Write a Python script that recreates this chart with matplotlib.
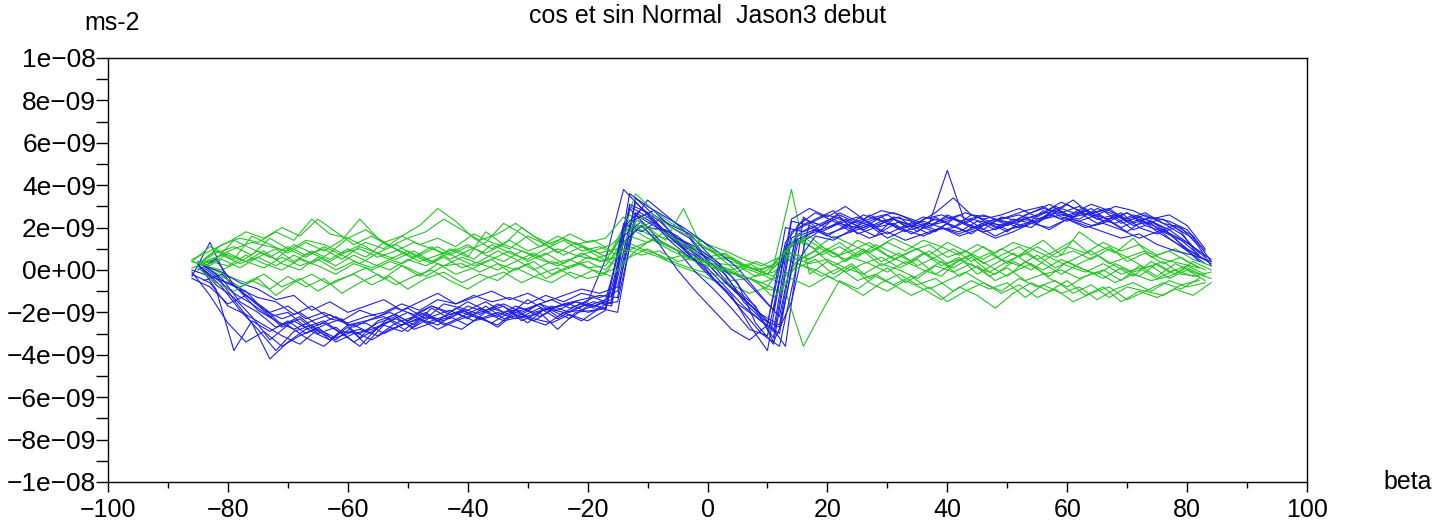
import numpy as np
import matplotlib
matplotlib.use("Agg")
import matplotlib.pyplot as plt
from matplotlib.ticker import FuncFormatter, MultipleLocator

plt.rcParams['font.family'] = ['Liberation Sans', 'DejaVu Sans']

# each curve is sampled every 3 degrees of beta, 57 points, starting at one of these
starts = [-85, -84, -86, -85, -84, -86, -85, -84, -86, -85,
          -84, -86, -85, -84, -86]
n_pts = 57
step = 3

# acceleration in units of 1e-9 m/s2
blue = [
    [0.2, -0.4, -1.1, -1.6, -2.2, -2.0, -2.7, -2.4, -3.0, -2.8,
     -3.1, -2.5, -2.2, -1.7, -2.1, -1.9, -1.5, -2.0, -1.8, -2.2,
     -1.7, -1.5, -1.8, -1.2, 3.0, 2.5, 1.8, 1.2, 0.6, -0.3,
     -1.1, -1.9, -3.2, 1.8, 2.3, 2.0, 2.4, 1.9, 2.3, 2.0,
     2.1, 1.8, 2.4, 2.0, 2.2, 2.1, 2.6, 2.9, 2.7, 3.0,
     2.4, 2.6, 2.1, 2.3, 1.9, 1.3, 0.6],
    [0.0, -0.8, -1.9, -2.8, -3.8, -2.9, -2.6, -3.3, -2.7, -3.5,
     -2.6, -2.9, -2.3, -2.6, -2.0, -2.4, -2.2, -1.9, -2.5, -1.8,
     -2.0, -1.9, -1.6, -1.5, 2.4, 2.8, 2.0, 1.5, 0.4, -0.2,
     -1.5, -2.3, -2.7, 1.2, 1.7, 2.4, 1.9, 2.2, 1.7, 2.1,
     2.3, 2.0, 1.8, 2.3, 1.9, 2.4, 2.2, 2.5, 3.1, 2.6,
     2.8, 2.2, 2.5, 1.8, 2.1, 1.6, 0.4],
    [-0.3, 1.3, -0.5, -1.2, -1.8, -2.6, -2.2, -2.9, -3.3, -2.6,
     -3.0, -2.2, -1.8, -2.3, -1.6, -1.8, -2.1, -1.6, -2.0, -1.7,
     -1.4, -1.8, -1.5, 0.5, 3.8, 2.9, 2.3, 1.5, 1.1, 0.2,
     -0.8, -1.6, -2.4, -3.6, 2.5, 1.8, 2.2, 2.5, 2.1, 2.4,
     1.9, 2.2, 4.7, 2.2, 1.8, 2.0, 2.4, 2.3, 2.9, 2.5,
     2.7, 2.9, 2.3, 2.6, 2.2, 1.7, 0.8],
    [0.4, -0.2, -1.4, -2.5, -4.2, -3.4, -2.8, -2.5, -3.0, -3.6,
     -2.7, -2.3, -2.7, -2.2, -1.9, -2.3, -1.7, -2.3, -2.1, -1.6,
     -2.2, -1.7, -1.3, -1.6, 2.1, 3.3, 2.6, 1.9, 0.9, 0.3,
     -0.6, -2.5, -3.5, 1.5, 2.0, 1.6, 2.1, 2.4, 1.8, 2.3,
     2.0, 2.4, 2.1, 1.7, 2.3, 1.9, 2.1, 2.8, 2.4, 2.7,
     2.2, 2.5, 1.9, 2.2, 1.5, 0.9, 0.3],
    [0.1, -0.5, -0.9, -1.3, -1.5, -2.1, -1.7, -2.3, -2.5, -2.2,
     -2.0, -1.6, -1.9, -1.4, -1.6, -1.2, -1.5, -1.3, -1.6, -1.2,
     -1.5, -1.1, -1.3, -1.0, 2.6, 2.1, 1.6, 0.8, 0.3, -0.6,
     -1.4, -2.1, -2.6, 2.1, 2.7, 2.3, 1.8, 2.6, 2.2, 1.8,
     2.4, 2.6, 2.3, 2.5, 2.0, 2.3, 2.7, 3.1, 2.6, 2.8,
     2.5, 2.0, 2.4, 2.0, 1.6, 1.1, 0.5],
    [-0.2, -0.6, -1.7, -2.1, -2.6, -3.1, -3.5, -2.8, -3.2, -2.9,
     -3.3, -2.8, -2.5, -2.1, -2.4, -2.0, -2.3, -2.6, -1.9, -2.4,
     -1.9, -2.3, -1.7, -1.4, 1.6, 2.3, 1.4, 0.9, -0.1, -0.9,
     -1.8, -2.8, -3.1, 0.9, 1.5, 2.1, 2.5, 1.7, 2.0, 2.2,
     1.7, 2.1, 2.5, 2.2, 1.9, 2.5, 2.3, 2.6, 2.8, 3.3,
     2.6, 2.4, 2.7, 2.1, 1.8, 1.4, 0.7],
    [0.3, -0.9, -3.8, -2.4, -2.9, -2.4, -3.0, -2.6, -2.3, -3.2,
     -2.4, -2.1, -2.6, -1.8, -2.3, -1.7, -2.0, -1.7, -2.4, -2.0,
     -2.8, -2.0, -1.9, -1.5, 2.9, 2.0, 1.9, 1.3, 0.5, 0.1,
     -1.0, -1.7, -3.4, -1.5, 2.2, 2.6, 2.3, 2.0, 2.5, 1.9,
     2.2, 1.9, 2.0, 2.4, 2.2, 1.8, 2.5, 2.4, 2.6, 2.4,
     2.9, 2.6, 2.2, 2.5, 2.3, 1.9, 0.9],
    [-0.5, -0.2, -1.0, -1.9, -2.4, -2.8, -2.4, -2.1, -2.6, -2.4,
     -2.2, -2.6, -2.0, -2.4, -1.8, -2.1, -1.8, -2.1, -1.4, -1.9,
     -1.6, -1.4, -1.2, -1.3, 3.4, 2.6, 2.1, 1.7, 0.8, 0.0,
     -0.4, -1.3, -2.2, 1.9, 2.4, 2.8, 2.0, 2.3, 2.6, 2.1,
     2.5, 2.3, 2.6, 2.1, 2.4, 2.2, 2.0, 2.6, 2.3, 2.9,
     2.3, 2.7, 2.0, 1.7, 2.0, 1.5, 0.2],
    [0.0, -0.3, -0.6, -1.0, -1.9, -2.3, -2.0, -2.6, -2.2, -2.7,
     -2.3, -2.0, -2.4, -2.0, -2.6, -2.2, -1.8, -2.2, -1.7, -2.0,
     -1.8, -1.6, -2.0, -1.8, 2.2, 1.8, 2.4, 1.4, 0.7, -0.4,
     -1.2, -2.6, -3.8, 1.1, 1.6, 1.9, 2.2, 2.0, 1.6, 2.4,
     2.1, 1.7, 2.2, 1.8, 2.1, 2.4, 2.6, 2.2, 2.9, 2.4,
     2.1, 2.3, 1.8, 2.4, 2.0, 1.2, 0.4],
    [0.3, -0.7, -1.3, -2.2, -3.3, -2.6, -3.2, -3.6, -2.9, -3.0,
     -2.5, -2.2, -2.8, -2.5, -2.2, -2.6, -2.0, -2.4, -2.2, -1.8,
     -2.3, -1.8, -1.5, -1.7, 3.1, 2.7, 1.7, 1.0, 0.2, -0.7,
     -1.6, -2.2, -2.9, 2.3, 2.1, 1.7, 2.0, 2.6, 2.3, 2.5,
     1.8, 2.5, 2.0, 2.6, 2.5, 2.1, 2.4, 2.7, 3.2, 2.8,
     2.4, 2.2, 2.6, 2.3, 1.7, 1.0, 0.5],
    [0.2, -0.1, -0.6, -0.9, -1.4, -1.2, -1.9, -1.5, -2.0, -1.7,
     -1.4, -1.9, -1.5, -1.1, -1.6, -1.3, -1.0, -1.4, -1.1, -1.5,
     -1.2, -0.9, -1.1, -0.8, 3.2, 2.4, 1.5, 0.7, -0.2, -1.0,
     -2.0, -3.0, -3.6, 0.4, 1.6, 1.4, 1.9, 1.5, 1.8, 1.4,
     1.7, 2.0, 1.6, 1.9, 1.5, 1.8, 2.2, 2.0, 2.4, 2.1,
     1.8, 1.5, 1.7, 1.2, 0.9, 0.7, 0.4],
    [-0.1, -1.2, -2.5, -3.4, -2.9, -3.6, -3.1, -2.7, -3.4, -3.0,
     -2.8, -2.4, -2.9, -2.2, -2.5, -2.8, -2.2, -2.7, -2.0, -2.3,
     -2.5, -2.1, -2.4, -1.9, 1.3, 2.1, 1.2, 0.0, -1.0, -1.9,
     -2.8, -3.3, -2.6, 2.0, 1.8, 2.2, 2.6, 2.2, 2.5, 2.7,
     2.4, 2.1, 2.3, 2.7, 2.4, 2.6, 2.9, 2.5, 3.0, 2.7,
     3.1, 2.8, 2.4, 2.7, 2.2, 2.0, 1.1],
    [0.0, 0.5, -0.7, -1.4, -2.0, -1.7, -2.3, -2.0, -2.4, -1.9,
     -2.2, -1.8, -2.1, -1.7, -2.0, -1.5, -1.9, -1.6, -2.0, -1.6,
     -1.9, -1.5, -1.7, -1.4, 3.6, 3.0, 2.5, 2.0, 1.4, 0.8,
     0.1, -0.9, -1.9, 2.4, 2.9, 2.5, 3.0, 2.4, 2.8, 2.6,
     2.2, 2.7, 3.4, 2.6, 2.3, 2.5, 2.8, 3.0, 2.5, 2.3,
     2.6, 3.0, 2.8, 2.4, 2.6, 2.1, 1.0],
    [0.2, -0.4, -1.5, -2.0, -2.7, -2.4, -2.9, -3.3, -2.6, -2.5,
     -3.0, -2.6, -2.3, -2.8, -2.4, -2.1, -2.5, -2.0, -2.3, -2.6,
     -2.0, -2.4, -1.8, -2.0, 2.7, 2.2, 1.3, 0.6, 0.1, -0.8,
     -1.7, -2.4, -3.0, 1.6, 1.9, 1.5, 1.8, 2.1, 1.5, 1.9,
     1.6, 2.0, 1.7, 2.1, 1.6, 2.0, 2.3, 1.9, 2.4, 2.0,
     2.2, 1.9, 1.5, 1.8, 1.3, 0.8, 0.3],
    [-0.4, -0.8, -1.6, -1.2, -1.9, -2.7, -2.3, -3.0, -2.7, -3.4,
     -2.9, -2.4, -2.0, -2.5, -2.2, -1.9, -2.3, -2.0, -2.3, -2.1,
     -1.7, -2.0, -1.6, -1.8, 2.0, 2.9, 2.0, 1.6, 0.9, 0.4,
     -0.3, -1.4, -2.5, 1.3, 2.4, 2.1, 2.7, 2.3, 2.0, 2.5,
     2.3, 2.0, 2.6, 2.2, 2.6, 2.3, 2.0, 2.4, 2.7, 2.5,
     2.9, 2.3, 2.7, 2.2, 2.4, 1.8, 0.6],
]

green = [
    [0.3, 0.6, 1.0, 1.3, 1.1, 0.9, 1.4, 1.2, 0.8, 1.0,
     0.6, 0.9, 1.3, 1.0, 0.7, 1.1, 0.8, 1.2, 0.9, 0.6,
     1.0, 0.7, 0.5, 0.8, 2.2, 1.7, 1.5, 1.1, 0.9, 0.3,
     0.2, -0.3, -0.1, 0.6, 0.3, 0.5, 0.1, -0.2, 0.3, 0.0,
     -0.4, 0.2, -0.1, 0.3, -0.3, 0.1, -0.5, -0.2, 0.0, -0.4,
     -0.1, -0.6, -0.2, -0.5, -0.3, 0.1, -0.3],
    [0.2, 0.0, 0.4, 0.9, 0.5, 1.2, 0.8, 0.4, 0.9, 1.3,
     1.0, 1.6, 2.1, 2.9, 2.3, 1.5, 1.0, 1.4, 0.9, 1.2,
     0.7, 1.1, 0.6, 0.2, 1.9, 2.3, 1.6, 1.2, 0.6, 0.8,
     0.1, -0.2, -0.6, 0.4, 0.9, 0.2, 0.6, 0.3, -0.1, 0.4,
     0.0, -0.3, 0.5, 0.1, -0.2, 0.4, 0.0, 0.6, 0.2, -0.1,
     0.3, -0.2, 0.1, -0.4, 0.0, -0.3, -0.1],
    [0.4, 0.1, -0.3, -0.6, -0.2, -0.8, -0.4, -1.0, -0.5, -0.2,
     -0.7, -0.3, -0.9, -0.4, -0.1, -0.6, -0.2, -0.5, 0.1, -0.3,
     -0.6, -0.1, -0.4, -0.2, 1.2, 0.9, 0.6, 0.2, -0.1, -0.5,
     -0.7, -1.1, -0.8, 0.5, 0.2, -0.3, 0.1, -0.5, -0.2, -0.7,
     -0.3, -0.9, -0.5, -0.1, -0.6, -1.0, -0.4, -0.8, -0.5, -1.1,
     -0.7, -1.3, -0.8, -1.0, -0.6, -0.9, -0.4],
    [0.3, 0.8, 1.1, 0.7, 1.5, 1.0, 0.6, 1.1, 0.7, 0.3,
     0.8, 0.5, 0.9, 0.4, 0.8, 1.2, 0.7, 0.4, 0.9, 0.5,
     0.2, 0.6, 0.9, 0.5, 1.6, 1.3, 1.8, 1.0, 1.2, 0.6,
     0.3, 0.0, 0.2, 3.8, -0.2, 0.4, -0.1, 0.3, 0.6, 0.1,
     0.5, -0.2, 0.3, 0.7, 0.2, -0.3, 0.4, 0.0, 0.5, 0.1,
     -0.2, 0.3, -0.1, 0.2, -0.4, 0.0, -0.5],
    [0.5, 1.2, 1.5, 1.3, 1.8, 1.4, 2.4, 1.7, 1.5, 1.9,
     1.3, 1.6, 1.2, 1.5, 1.1, 1.7, 1.3, 1.0, 1.6, 1.2,
     1.5, 1.1, 0.8, 1.0, 3.6, 2.8, 2.2, 1.7, 1.2, 0.9,
     0.5, 0.2, 0.6, 1.4, 1.0, 1.6, 1.2, 0.8, 1.3, 0.9,
     1.4, 1.1, 0.7, 1.2, 0.8, 1.3, 1.0, 0.6, 1.1, 0.8,
     1.3, 0.9, 1.2, 0.7, 1.0, 0.5, 0.2],
    [0.1, 0.4, 0.2, 0.7, 0.3, 0.0, 0.5, 0.2, -0.2, 0.3,
     0.0, 0.4, 0.1, -0.3, 0.2, 0.6, 0.3, 0.0, 0.4, 0.8,
     0.3, 0.5, 0.1, 0.2, 1.4, 1.0, 0.7, 0.3, 0.0, -0.2,
     -0.5, -0.4, -0.9, -1.0, -3.6, -2.0, -0.5, -0.9, -0.3, -0.7,
     -1.2, -0.8, -1.5, -1.0, -0.6, -1.1, -0.7, -1.3, -0.9, -1.5,
     -1.1, -0.8, -1.4, -1.0, -1.2, -0.7, -0.5],
    [0.3, 0.9, 0.5, 1.6, 1.2, 0.8, 1.3, 0.9, 1.4, 2.4,
     1.5, 1.0, 0.6, 1.1, 0.5, 0.9, 1.3, 2.2, 1.7, 1.1,
     1.6, 1.2, 1.4, 0.9, 2.6, 2.0, 1.4, 2.9, 1.1, 0.7,
     0.4, 0.0, -0.3, 1.2, 1.6, 0.9, 0.5, 1.0, 0.4, 0.8,
     0.2, 0.6, 1.0, 0.4, 0.8, 0.3, 0.9, 1.4, 0.7, 1.8,
     1.2, 0.8, 1.5, 0.6, 0.9, 0.4, 0.0],
    [0.2, -0.3, -0.8, -0.4, -1.2, -0.6, -0.2, -0.7, -0.3, 0.1,
     -0.4, 0.2, -0.3, 0.3, -0.2, 0.1, 0.5, -0.1, 0.3, -0.4,
     0.0, 0.3, -0.2, 0.1, 0.9, 1.5, 1.1, 0.6, 0.4, 0.1,
     -0.3, -0.6, -1.0, 0.3, 0.0, -0.4, 0.2, -0.6, -1.0, -0.5,
     -0.9, -1.4, -0.8, -1.2, -1.8, -1.1, -0.6, -1.0, -0.5, -1.2,
     -0.8, -1.5, -1.0, -1.3, -0.9, -1.2, -0.6],
    [0.4, 1.1, 0.7, 0.4, 0.9, 0.3, 0.0, 0.6, 0.2, 0.7,
     0.3, 0.0, 0.5, 0.2, 0.6, 0.1, 0.4, 0.9, 0.5, 0.0,
     0.4, 0.1, 0.6, 0.4, 1.8, 2.1, 1.3, 0.9, 0.5, 0.2,
     0.0, 0.3, -0.2, 1.0, 1.4, 0.7, 1.1, 0.6, 1.2, 0.8,
     0.4, 0.9, 0.3, 0.6, 1.1, 0.5, 0.2, 0.7, 0.1, 0.5,
     0.9, 0.3, 0.6, 0.1, 0.4, -0.2, -0.3],
    [0.3, 0.5, 1.4, 1.0, 0.6, 1.1, 0.7, 1.0, 0.5, 1.1,
     0.8, 1.2, 0.7, 0.3, 1.0, 0.6, 1.8, 1.2, 2.0, 1.4,
     0.8, 1.3, 0.9, 1.2, 2.0, 1.5, 1.2, 0.8, 1.4, 0.6,
     -0.1, 0.4, 0.1, 0.8, 0.5, 1.0, 0.4, 0.9, 0.2, 0.6,
     1.0, 0.5, 0.1, 0.6, -0.1, 0.4, 0.8, 0.3, -0.2, 0.3,
     0.7, 0.2, -0.3, 0.4, -0.1, 0.2, -0.2],
    [0.3, 0.7, 0.3, 0.6, 0.2, 0.7, 0.3, 0.8, 1.5, 1.1,
     0.6, 0.3, 0.7, 1.1, 0.6, 0.2, 0.5, 0.9, 0.4, 0.8,
     0.3, 0.8, 0.4, 0.6, 1.1, 1.4, 0.9, 0.5, 0.2, -0.1,
     -0.3, -0.6, -0.3, 0.1, 0.5, -0.2, 0.3, -0.4, 0.1, -0.6,
     -0.1, 0.4, -0.3, 0.2, -0.5, -0.1, 0.3, -0.4, -0.8, -0.3,
     0.0, -0.5, 0.2, -0.3, 0.3, -0.1, -0.4],
    [0.5, 0.9, 1.3, 1.8, 1.5, 2.0, 1.6, 2.4, 1.8, 1.2,
     1.6, 1.1, 1.5, 1.8, 2.4, 1.9, 1.4, 1.7, 2.2, 1.6,
     1.2, 1.7, 1.3, 1.5, 2.5, 2.0, 1.9, 1.4, 0.8, 0.5,
     0.6, 0.1, -0.2, 0.7, 0.4, 0.8, 1.3, 0.7, 1.0, 0.5,
     0.9, 1.2, 0.6, 0.9, 0.3, 0.7, 1.1, 0.5, 0.9, 1.4,
     0.7, 1.1, 0.4, 0.8, 0.3, 0.6, 0.1],
    [0.1, -0.6, -1.0, -0.5, -0.9, -0.3, -0.8, -0.4, -1.1, -0.6,
     -0.2, -0.7, -0.3, 0.0, -0.5, -0.9, -0.4, -0.1, -0.6, -0.2,
     0.1, -0.4, 0.0, -0.3, 0.6, 1.0, 0.5, 0.7, 0.3, 0.0,
     -0.2, -0.5, -1.3, -0.4, -0.8, -0.3, -0.7, -1.2, -0.6, -0.2,
     -0.7, -0.4, -1.0, -0.5, -0.9, -0.6, -1.3, -0.7, -1.1, -0.8,
     -1.4, -0.9, -0.6, -1.0, -0.5, -0.8, -0.6],
    [0.2, 0.5, 0.1, 0.6, 1.0, 0.4, 0.9, 0.5, 1.0, 0.6,
     1.3, 0.8, 0.4, 0.7, 1.0, 0.5, 1.2, 0.8, 0.5, 1.0,
     1.4, 0.9, 1.1, 0.7, 2.3, 2.6, 2.0, 1.6, 1.0, 0.7,
     0.2, 0.0, 0.4, 1.7, 1.2, 0.6, 0.9, 1.3, 0.7, 0.3,
     0.8, 0.2, 0.6, -0.2, 0.3, 0.8, 0.2, -0.3, 0.4, 0.0,
     -0.4, 0.1, -0.3, 0.3, -0.2, 0.4, 0.0],
    [0.4, 0.2, 0.8, 0.4, 0.1, 0.6, 0.2, 0.5, 0.0, 0.4,
     0.1, 0.5, 0.9, 0.5, 0.2, 0.3, -0.1, 0.3, 0.0, 0.4,
     -0.2, 0.2, 0.4, 0.0, 1.0, 0.7, 0.9, 0.4, 0.6, 0.2,
     -0.1, -0.4, 0.0, 0.9, 0.6, 1.1, 0.7, 1.4, 1.0, 1.5,
     1.1, 0.7, 1.3, 0.9, 0.5, 1.0, 0.6, 1.1, 0.6, 0.9,
     0.5, 1.0, 0.6, 0.9, 0.5, 0.3, 0.1],
]

fig = plt.figure(figsize=(14.42, 5.21), dpi=100)
ax = fig.add_axes([0.0749, 0.0749, 0.8315, 0.8138])

for k in range(len(blue)):
    beta = starts[k] + step * np.arange(n_pts)
    ax.plot(beta, np.array(blue[k]) * 1e-9, color='#1f1fe6', lw=0.8)
    ax.plot(beta, np.array(green[k]) * 1e-9, color='#22c422', lw=0.8)

ax.set_xlim(-100, 100)
ax.set_ylim(-1e-8, 1e-8)
ax.xaxis.set_major_locator(MultipleLocator(20))
ax.xaxis.set_minor_locator(MultipleLocator(10))
ax.yaxis.set_major_locator(MultipleLocator(2e-9))
ax.yaxis.set_minor_locator(MultipleLocator(1e-9))

def sci(v, pos):
    if abs(v) < 1e-15:
        v = 0.0
    return ("%.0e" % v).replace('-', '\u2212')

ax.yaxis.set_major_formatter(FuncFormatter(sci))
ax.xaxis.set_major_formatter(FuncFormatter(lambda v, p: ("%d" % round(v)).replace('-', '\u2212')))
ax.tick_params(axis='x', which='major', labelsize=18, direction='out', length=7.5, width=1, pad=4)
ax.tick_params(axis='x', which='minor', length=4.5, width=1, direction='out')
ax.tick_params(axis='y', which='major', labelsize=19, direction='out', length=8.5, width=1, pad=0)
ax.tick_params(axis='y', which='minor', length=8.5, width=1, direction='out')
for sp in ax.spines.values():
    sp.set_linewidth(1)

fig.text(112 / 1442, 1 - 23 / 521, "ms-2", ha='center', va='center', fontsize=18)
fig.text(708 / 1442, 1 - 16 / 521, "cos et sin Normal  Jason3 debut", ha='center', va='center', fontsize=18)
fig.text(1408 / 1442, 1 - 482 / 521, "beta", ha='center', va='center', fontsize=18)

fig.savefig("out.png", dpi=100)
